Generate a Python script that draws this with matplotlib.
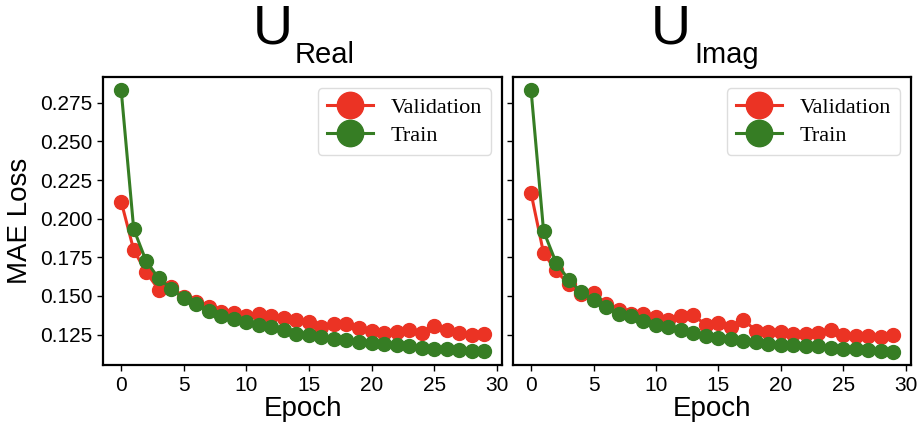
import numpy as np
import matplotlib
matplotlib.use("Agg")
import matplotlib.pyplot as plt

plt.rcParams['font.family'] = ['Liberation Sans', 'DejaVu Sans']

epochs = list(range(30))

real_val = [0.2111, 0.1797, 0.1653, 0.1541, 0.1556, 0.1496, 0.1459, 0.1429, 0.1399, 0.1388,
            0.1373, 0.1384, 0.1369, 0.1356, 0.1341, 0.1330, 0.1302, 0.1315, 0.1315, 0.1292,
            0.1272, 0.1261, 0.1266, 0.1277, 0.1259, 0.1305, 0.1277, 0.1261, 0.1244, 0.1255]
real_train = [0.2832, 0.1933, 0.1724, 0.1614, 0.1545, 0.1485, 0.1446, 0.1401, 0.1373, 0.1352,
              0.1330, 0.1313, 0.1298, 0.1277, 0.1255, 0.1244, 0.1234, 0.1218, 0.1212, 0.1201,
              0.1195, 0.1186, 0.1180, 0.1173, 0.1165, 0.1158, 0.1154, 0.1152, 0.1143, 0.1141]

imag_val = [0.2164, 0.1776, 0.1665, 0.1574, 0.1510, 0.1516, 0.1446, 0.1410, 0.1386, 0.1382,
            0.1361, 0.1346, 0.1367, 0.1375, 0.1312, 0.1324, 0.1301, 0.1346, 0.1275, 0.1265,
            0.1265, 0.1254, 0.1254, 0.1258, 0.1282, 0.1250, 0.1243, 0.1243, 0.1237, 0.1250]
imag_train = [0.2830, 0.1919, 0.1716, 0.1606, 0.1525, 0.1471, 0.1425, 0.1386, 0.1367, 0.1335,
              0.1314, 0.1301, 0.1277, 0.1260, 0.1243, 0.1228, 0.1218, 0.1211, 0.1201, 0.1190,
              0.1184, 0.1184, 0.1175, 0.1173, 0.1162, 0.1158, 0.1154, 0.1147, 0.1141, 0.1137]

x_ticks = [0, 5, 10, 15, 20, 25, 30]
y_ticks = [0.125, 0.150, 0.175, 0.200, 0.225, 0.250, 0.275]

panels = [("U", "Real", real_val, real_train), ("U", "Imag", imag_val, imag_train)]

RED = '#EB3324'
GREEN = '#367D24'

fig = plt.figure(figsize=(9.2, 4.28), dpi=100)
ax1 = fig.add_axes([0.112, 0.147, 0.434, 0.673])
ax2 = fig.add_axes([0.5576, 0.147, 0.433, 0.673], sharey=ax1)
axes = [ax1, ax2]

# title positions (axes fraction) for the big "U" and its subscript
title_pos = [(0.474, 0.481), (0.447, 0.455)]

for ax, (main, sub, val, train), (xu, xs) in zip(axes, panels, title_pos):
    ax.plot(epochs, val, '-o', color=RED, lw=2.2, ms=10, label='Validation')
    ax.plot(epochs, train, '-o', color=GREEN, lw=2.2, ms=10, label='Train')
    ax.set_xticks(x_ticks)
    ax.set_yticks(y_ticks)
    for s in ax.spines.values():
        s.set_linewidth(1.6)
        s.set_color('black')
    ax.tick_params(labelsize=15, width=1.0, length=4)
    ax.set_xlabel('Epoch', fontsize=20, labelpad=1)
    ax.legend(loc='upper right', markerscale=1.9, labelspacing=0.35,
              prop={'family': 'Liberation Serif', 'size': 16},
              handlelength=2.1, borderpad=0.4, framealpha=1.0, edgecolor='#dddddd')
    ax.text(xu, 1.118, main, transform=ax.transAxes, ha='right', va='baseline', fontsize=40)
    ax.text(xs, 1.049, sub, transform=ax.transAxes, ha='left', va='baseline', fontsize=21)

ax1.set_ylabel('MAE Loss', fontsize=20, labelpad=5)
plt.setp(ax2.get_yticklabels(), visible=False)

fig.savefig('out.png', dpi=100)
